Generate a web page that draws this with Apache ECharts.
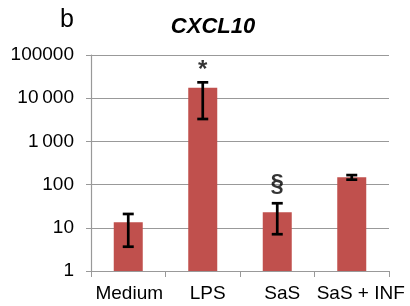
<!DOCTYPE html>
<html>
<head>
<meta charset="utf-8">
<script src="https://cdn.jsdelivr.net/npm/echarts@6/dist/echarts.min.js"></script>
<style>
  html, body { margin: 0; padding: 0; background: #fff; }
  #chart { width: 410px; height: 306px; }
</style>
</head>
<body>
<div id="chart"></div>
<script>
// data (log scale)
const categories = ["Medium", "LPS", "SaS", "SaS + INF"];
const means = [13.4, 17500, 22.8, 148];
const errLow = [3.65, 3300, 7.1, 130];
const errHigh = [20.9, 23300, 37, 166];
const marks = ["", "*", "§", ""];
const yTicks = { 1: "1", 10: "10", 100: "100", 1000: "1\u2009000", 10000: "10\u2009000", 100000: "100000" };

const font = "'Liberation Sans', Arial, sans-serif";
const chart = echarts.init(document.getElementById("chart"));

// labels in the original sit a little right of the category centres
const labelShift = [1, 5, 5, 9];
const rich = {};
labelShift.forEach((s, i) => {
  rich["c" + i] = { fontSize: 19, color: "#000", fontFamily: font, padding: [0, 0, 0, s * 2] };
});

const option = {
  animation: false,
  textStyle: { fontFamily: font },
  title: [
    {
      text: "CXCL10",
      left: 208,
      textAlign: "center",
      top: 11,
      textStyle: { fontSize: 22, fontWeight: "bold", fontStyle: "italic", color: "#000", fontFamily: font },
    },
    {
      text: "b",
      left: 55,
      top: 3,
      textStyle: { fontSize: 25, fontWeight: "normal", color: "#000", fontFamily: font },
    },
  ],
  grid: { left: 91, right: 21, top: 55, bottom: 35 },
  xAxis: {
    type: "category",
    data: categories,
    axisLine: { lineStyle: { color: "#999", width: 1.2 } },
    axisTick: { show: true, length: 6, lineStyle: { color: "#999" } },
    axisLabel: {
      interval: 0,
      margin: 13,
      formatter: (v, i) => "{c" + i + "|" + v + "}",
      rich,
    },
  },
  yAxis: {
    type: "log",
    logBase: 10,
    min: 1,
    max: 100000,
    axisLine: { show: true, lineStyle: { color: "#999", width: 1.2 } },
    axisTick: { show: true, length: 5, lineStyle: { color: "#999" } },
    splitLine: { lineStyle: { color: "#999", width: 1.2 } },
    axisLabel: {
      color: "#000",
      fontSize: 19,
      margin: 17,
      fontFamily: font,
      formatter: (v) => yTicks[Math.round(v)] || "",
    },
  },
  series: [
    {
      type: "bar",
      data: means,
      barWidth: 29,
      itemStyle: { color: "#C0504D" },
    },
    {
      type: "custom",
      data: categories.map((c, i) => [i, errLow[i], errHigh[i]]),
      renderItem: (params, api) => {
        const lo = api.coord([api.value(0), api.value(1)]);
        const hi = api.coord([api.value(0), api.value(2)]);
        const half = 5.5;
        const style = { stroke: "#000", lineWidth: 2.7 };
        return {
          type: "group",
          children: [
            { type: "line", shape: { x1: hi[0], y1: hi[1], x2: lo[0], y2: lo[1] }, style },
            { type: "line", shape: { x1: hi[0] - half, y1: hi[1], x2: hi[0] + half, y2: hi[1] }, style },
            { type: "line", shape: { x1: lo[0] - half, y1: lo[1], x2: lo[0] + half, y2: lo[1] }, style },
          ],
        };
      },
      z: 5,
    },
    {
      type: "scatter",
      symbolSize: 0,
      data: errHigh.map((v, i) => ({
        value: [i, v],
        label: { offset: [0, marks[i] === "*" ? -12 : -19] },
      })),
      label: {
        show: true,
        position: "inside",
        formatter: (p) => marks[p.dataIndex],
        color: "#000",
        fontSize: 24,
        fontWeight: "bold",
        fontFamily: font,
      },
      z: 6,
    },
  ],
};

chart.setOption(option);
</script>
</body>
</html>
